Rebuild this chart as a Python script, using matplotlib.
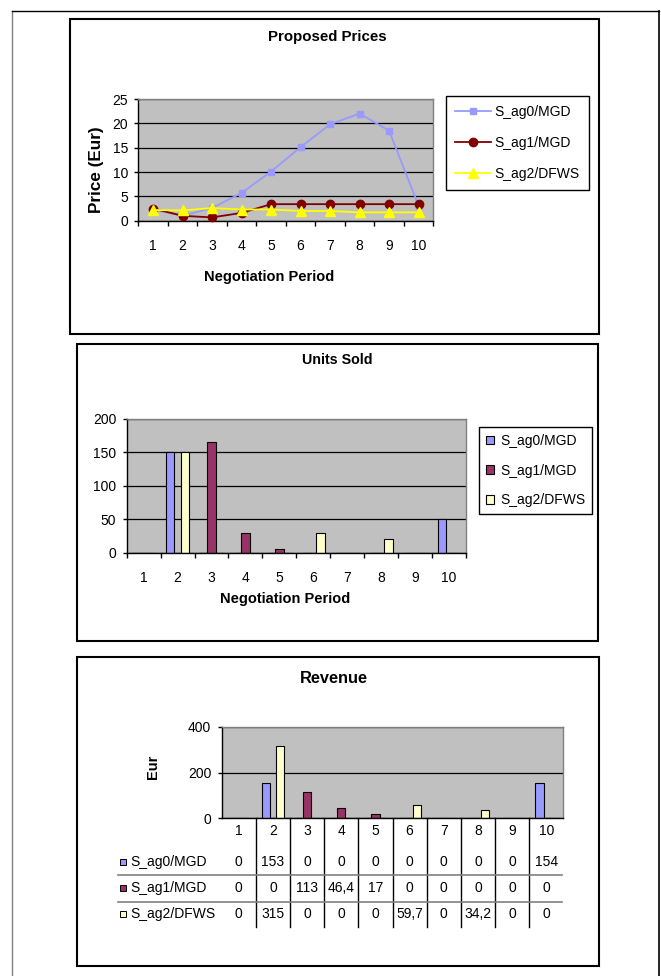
import matplotlib
matplotlib.use("Agg")
import matplotlib.pyplot as plt
from matplotlib.patches import Rectangle
from matplotlib.lines import Line2D
import matplotlib.transforms as mtransforms
import numpy as np

plt.rcParams['font.family'] = ['Liberation Sans', 'DejaVu Sans']
plt.rcParams['font.size'] = 10

# ---------------- data ----------------
periods = [1, 2, 3, 4, 5, 6, 7, 8, 9, 10]
series_names = ["S_ag0/MGD", "S_ag1/MGD", "S_ag2/DFWS"]

price_ag0 = [2.3, 1.02, 2.6, 5.7, 10.1, 15.1, 19.8, 22.0, 18.5, 3.08]
price_ag1 = [2.5, 1.0, 0.68, 1.6, 3.4, 3.4, 3.4, 3.4, 3.4, 3.4]
price_ag2 = [2.2, 2.1, 2.6, 2.3, 2.3, 2.0, 2.0, 1.71, 1.71, 1.71]

units_ag0 = [0, 150, 0, 0, 0, 0, 0, 0, 0, 50]
units_ag1 = [0, 0, 165, 29, 5, 0, 0, 0, 0, 0]
units_ag2 = [0, 150, 0, 0, 0, 30, 0, 20, 0, 0]

rev_ag0 = [0, 153, 0, 0, 0, 0, 0, 0, 0, 154]
rev_ag1 = [0, 0, 113, 46.4, 17, 0, 0, 0, 0, 0]
rev_ag2 = [0, 315, 0, 0, 0, 59.7, 0, 34.2, 0, 0]

price_ticks = [0, 5, 10, 15, 20, 25]
units_ticks = [0, 50, 100, 150, 200]
rev_ticks = [0, 200, 400]

# ---------------- styles ----------------
line_colors = ["#9999FF", "#800000", "#FFFF00"]
line_markers = ["s", "o", "^"]
marker_sizes = [4, 6, 7]
bar_colors = ["#9999FF", "#993366", "#FFFFCC"]
plot_bg = "#C0C0C0"
W, H = 661, 976

fig = plt.figure(figsize=(W / 100, H / 100), dpi=100)
fig.patch.set_facecolor("white")


def frect(x0, y0, x1, y1):
    return [x0 / W, 1 - y1 / H, (x1 - x0) / W, (y1 - y0) / H]


def fx(x):
    return x / W


def fy(y):
    return 1 - y / H


# outer frame
fig.add_artist(Line2D([fx(12), fx(12)], [fy(11), 0], color="#808080", lw=1, zorder=-2))
fig.add_artist(Line2D([fx(12), fx(658.5)], [fy(11), fy(11)], color="black", lw=1, zorder=-2))
fig.add_artist(Line2D([fx(658.5), fx(658.5)], [fy(11), 0], color="black", lw=1.2, zorder=-2))

# panel frames
for (x0, y0, x1, y1) in [(70, 19, 599, 334), (77, 344, 598, 641), (77, 657, 599, 966)]:
    fig.add_artist(Rectangle((fx(x0), fy(y1)), fx(x1) - fx(x0), fy(y0) - fy(y1),
                             transform=fig.transFigure, facecolor="white",
                             edgecolor="black", lw=1.5, zorder=-1))


def style_axes(ax, yticks, xlabels=True):
    ax.set_facecolor(plot_bg)
    ax.set_xlim(0.5, 10.5)
    ax.set_ylim(yticks[0], yticks[-1])
    ax.set_yticks(yticks)
    ax.set_axisbelow(True)
    ax.yaxis.grid(True, color="black", lw=0.9)
    for s in ["top", "right"]:
        ax.spines[s].set_color("#808080")
        ax.spines[s].set_linewidth(1.0)
    for s in ["left", "bottom"]:
        ax.spines[s].set_color("black")
        ax.spines[s].set_linewidth(1.0)
    ax.tick_params(axis="y", direction="out", length=3, width=1, pad=4.5, labelsize=10)
    ax.set_xticks(periods)
    ax.set_xticks(np.arange(0.5, 11, 1), minor=True)
    if xlabels:
        ax.set_xticklabels([str(p) for p in periods])
        ax.tick_params(axis="x", which="major", length=0, pad=13.5, labelsize=10)
        ax.tick_params(axis="x", which="minor", direction="out", length=3.5, width=1)
    else:
        ax.set_xticklabels([])
        ax.tick_params(axis="x", which="both", length=0)


def label_coords(ax, rect_px, x, y):
    x0, y0, x1, y1 = rect_px
    return (x - x0) / (x1 - x0), (y1 - y) / (y1 - y0)


# ---------------- panel 1: Proposed Prices ----------------
r1 = (138.3, 99, 433.3, 220.7)
ax1 = fig.add_axes(frect(*r1))
style_axes(ax1, price_ticks)
for vals, c, m, ms, name in zip([price_ag0, price_ag1, price_ag2], line_colors,
                                line_markers, marker_sizes, series_names):
    ax1.plot(periods, vals, color=c, marker=m, markersize=ms, lw=1.3,
             markeredgecolor=c, label=name, clip_on=False, zorder=3)
ax1.set_ylabel("Price (Eur)", fontsize=12.3, fontweight="bold")
ax1.yaxis.set_label_coords(*label_coords(ax1, r1, 96.7, 170))
ax1.yaxis.label.set_va("center")
ax1.set_xlabel("Negotiation Period", fontsize=10.5, fontweight="bold")
ax1.xaxis.set_label_coords(*label_coords(ax1, r1, 269.5, 276.7))
ax1.xaxis.label.set_va("center")
fig.text(fx(327), fy(36.7), "Proposed Prices", ha="center", va="center",
         fontsize=10.8, fontweight="bold")
leg1 = ax1.legend(loc="upper left", bbox_to_anchor=(fx(446), fy(96)),
                  bbox_transform=fig.transFigure, frameon=True, fancybox=False,
                  edgecolor="black", framealpha=1, borderpad=0.65, labelspacing=1.22,
                  handlelength=2.6, handletextpad=0.25, borderaxespad=0, fontsize=10)
leg1.get_frame().set_linewidth(1.0)

# ---------------- panel 2: Units Sold ----------------
r2 = (126.7, 419, 466, 552.7)
ax2 = fig.add_axes(frect(*r2))
style_axes(ax2, units_ticks)
bw = 0.245
offsets = [-0.215, 0.0, 0.215]
x = np.array(periods, dtype=float)
for vals, c, off, name in zip([units_ag0, units_ag1, units_ag2], bar_colors, offsets, series_names):
    ax2.bar(x + off, vals, width=bw, color=c, edgecolor="black", lw=0.8, label=name, zorder=2)
ax2.set_xlabel("Negotiation Period", fontsize=10.5, fontweight="bold")
ax2.xaxis.set_label_coords(*label_coords(ax2, r2, 284.7, 599))
ax2.xaxis.label.set_va("center")
fig.text(fx(337), fy(360), "Units Sold", ha="center", va="center",
         fontsize=10.3, fontweight="bold")
leg2 = ax2.legend(loc="upper left", bbox_to_anchor=(fx(479), fy(427)),
                  bbox_transform=fig.transFigure, frameon=True, fancybox=False,
                  edgecolor="black", framealpha=1, borderpad=0.5, labelspacing=1.12,
                  handlelength=0.6, handleheight=0.6, handletextpad=0.4,
                  borderaxespad=0, fontsize=10)
leg2.get_frame().set_linewidth(1.0)

# ---------------- panel 3: Revenue ----------------
r3 = (221.7, 726.7, 563.3, 818.3)
ax3 = fig.add_axes(frect(*r3))
style_axes(ax3, rev_ticks, xlabels=False)
offsets3 = [-0.2, 0.0, 0.215]
for vals, c, off, name in zip([rev_ag0, rev_ag1, rev_ag2], bar_colors, offsets3, series_names):
    ax3.bar(x + off, vals, width=bw, color=c, edgecolor="black", lw=0.8, label=name, zorder=2)
ax3.set_ylabel("Eur", fontsize=10.5, fontweight="bold")
ax3.yaxis.set_label_coords(*label_coords(ax3, r3, 153, 766.7))
ax3.yaxis.label.set_va("center")
fig.text(fx(334.3), fy(678.3), "Revenue", ha="center", va="center",
         fontsize=11.8, fontweight="bold")

# data table
blend = mtransforms.blended_transform_factory(ax3.transData, ax3.transAxes)


def ay(ypx):
    return (r3[3] - ypx) / (r3[3] - r3[1])


def axx(xpx):
    return (xpx - r3[0]) / (r3[2] - r3[0])


def fmt(v):
    return ("%g" % v).replace(".", ",")


for p in periods:
    ax3.text(p, ay(831), str(p), transform=blend, ha="center", va="center",
             fontsize=10, clip_on=False)
row_y = [861.7, 888, 914.3]
for vals, c, name, yy in zip([rev_ag0, rev_ag1, rev_ag2], bar_colors, series_names, row_y):
    ax3.plot([axx(123)], [ay(yy)], marker="s", markersize=4.5, color=c,
             markeredgecolor="black", markeredgewidth=0.7, transform=ax3.transAxes,
             clip_on=False, linestyle="none")
    ax3.text(axx(130), ay(yy), name, transform=ax3.transAxes, ha="left", va="center",
             fontsize=10, clip_on=False)
    for p, v in zip(periods, vals):
        ax3.text(p, ay(yy), fmt(v), transform=blend, ha="center", va="center",
                 fontsize=10, clip_on=False)
for b in np.arange(1.5, 10, 1):
    ax3.add_line(Line2D([b, b], [0, ay(927.3)], transform=blend, color="black",
                        lw=1, clip_on=False))
for yy in [875, 901.7]:
    ax3.add_line(Line2D([axx(118), axx(561.7)], [ay(yy), ay(yy)], transform=ax3.transAxes,
                        color="#808080", lw=1.2, clip_on=False))

fig.savefig("out.png", dpi=100, facecolor="white")
